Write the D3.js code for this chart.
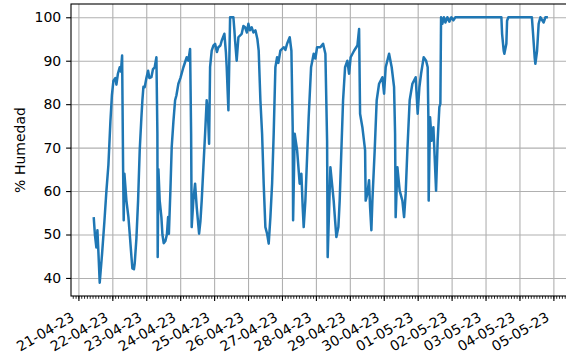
<!DOCTYPE html>
<html>
<head>
<meta charset="utf-8">
<script src="https://cdn.jsdelivr.net/npm/d3@7"></script>
<style>
  body { margin: 0; background: #fff; }
  text { font-family: "DejaVu Sans", sans-serif; }
</style>
</head>
<body>
<svg id="chart" width="566" height="358"></svg>
<script>
// ----- datos -----
// dias desde el 21-04-23 00:00 y % de humedad leido en cada instante
const inicio = new Date(2023, 3, 21);
const dias = [
  0.451, 0.486, 0.530, 0.560, 0.589, 0.628, 0.698, 0.766, 0.825, 0.884,
  0.943, 0.987, 1.032, 1.090, 1.120, 1.164, 1.217, 1.253, 1.288, 1.317,
  1.335, 1.356, 1.415, 1.474, 1.512, 1.562, 1.591, 1.636, 1.659, 1.709,
  1.759, 1.807, 1.857, 1.886, 1.916, 1.954, 2.004, 2.054, 2.093, 2.151,
  2.196, 2.249, 2.299, 2.328, 2.337, 2.358, 2.396, 2.446, 2.476, 2.514,
  2.564, 2.608, 2.644, 2.667, 2.711, 2.750, 2.800, 2.850, 2.888, 2.947,
  3.006, 3.095, 3.192, 3.242, 3.292, 3.322, 3.339, 3.389, 3.439, 3.487,
  3.557, 3.596, 3.634, 3.684, 3.734, 3.781, 3.817, 3.852, 3.881, 3.929,
  3.979, 4.029, 4.082, 4.126, 4.185, 4.223, 4.303, 4.347, 4.371, 4.421,
  4.471, 4.568, 4.598, 4.618, 4.665, 4.716, 4.813, 4.863, 4.913, 4.966,
  5.010, 5.054, 5.108, 5.158, 5.217, 5.275, 5.314, 5.364, 5.414, 5.461,
  5.511, 5.561, 5.609, 5.659, 5.709, 5.756, 5.806, 5.856, 5.894, 5.953,
  6.051, 6.101, 6.151, 6.228, 6.278, 6.316, 6.328, 6.375, 6.446, 6.522,
  6.572, 6.611, 6.640, 6.690, 6.787, 6.858, 6.935, 6.985, 7.035, 7.132,
  7.212, 7.280, 7.330, 7.347, 7.427, 7.524, 7.565, 7.604, 7.663, 7.701,
  7.751, 7.801, 7.860, 7.928, 7.978, 8.025, 8.125, 8.223, 8.273, 8.302,
  8.370, 8.450, 8.467, 8.517, 8.567, 8.597, 8.635, 8.665, 8.733, 8.792,
  8.862, 8.960, 9.010, 9.057, 9.157, 9.234, 9.304, 9.334, 9.351, 9.402,
  9.469, 9.549, 9.599, 9.646, 9.696, 9.764, 9.844, 9.941, 10.000, 10.050,
  10.100, 10.177, 10.248, 10.295, 10.315, 10.324, 10.365, 10.412, 10.463, 10.492,
  10.542, 10.589, 10.639, 10.669, 10.689, 10.728, 10.772, 10.816, 10.875, 10.934,
  10.993, 11.052, 11.111, 12.467, 12.488, 12.535, 12.555, 12.614, 12.635, 12.673,
  13.366, 13.401, 13.448, 13.469, 13.519, 13.566, 13.616, 13.714, 13.763, 13.838
];
const humedad = [
  54, 50, 47, 51, 46, 38.9, 45.6, 53, 60, 66,
  76, 82, 85.4, 86, 84.5, 87, 88.5, 87.5, 91.2, 65.5,
  53.3, 64, 57.8, 54, 50.2, 45, 42.2, 42, 43.3, 49,
  57.8, 69.4, 77, 80.9, 84, 83.9, 86, 87.7, 86, 86.2,
  88, 88.5, 90.8, 73.2, 44.8, 65, 57.8, 54, 50, 48,
  48.5, 50, 54, 50.2, 60, 70.1, 76, 80.9, 82, 84.7,
  86, 88.5, 90.8, 90, 92.7, 73.2, 51.7, 58, 61.7, 56.3,
  50.2, 53, 57.8, 65.5, 73.2, 80.9, 78, 70.9, 88.5, 92.3,
  93.5, 93.9, 92, 93.1, 93.5, 94.6, 96.2, 92, 88.5, 78.6,
  100, 100, 97, 94.6, 90, 95.4, 96.2, 98, 97.7, 96.5,
  98.5, 97, 97.7, 96.5, 97, 95, 92.3, 80.9, 73.2, 61.7,
  51.7, 50.2, 47.9, 54, 61.7, 73.2, 88.5, 90.8, 89.5, 92.3,
  93.1, 92.5, 93.9, 95.4, 92.3, 74.7, 53.3, 73.2, 69.4, 61.7,
  64, 56.3, 51.7, 57.8, 77, 88.5, 91.6, 90.5, 93.1, 93.1,
  93.9, 91.6, 71.6, 44.8, 65.5, 57.8, 53.3, 49.4, 51.7, 57.8,
  69.4, 80.9, 88.5, 90, 87, 90.8, 92.3, 93.5, 97.3, 77.8,
  74.7, 69.4, 57.8, 59.4, 62.5, 56.3, 51, 57.8, 69.4, 80.9,
  84.7, 86.2, 82.4, 88.5, 91.6, 88.5, 83.9, 73.2, 54, 65.5,
  60.1, 57.8, 54, 59.4, 69.4, 80.9, 84.7, 86.2, 77.8, 83.9,
  87, 90.8, 90, 88.5, 77, 57.8, 77, 71.6, 74.7, 69.4,
  60.1, 71.6, 79.3, 80.1, 100, 98.5, 100, 98.8, 100, 99,
  100, 99.3, 100, 100, 96.2, 92.3, 91.6, 93.9, 99.2, 100,
  100, 96.2, 90.8, 89.3, 92.3, 98.5, 100, 98.8, 100, 100
];
const yTicks = [40, 50, 60, 70, 80, 90, 100];
const etiquetaY = "% Humedad";

// ----- tamanos -----
const W = 566, H = 358;
const margin = { top: 4, left: 71, bottom: 296 };
const plotRight = 570.6;   // el marco sigue fuera de la imagen (recortado)
const tickLen = 4.9, tickPad = 4.9, fontSize = 14;
const lineColor = "#1f77b4";

if (dias.length !== humedad.length) console.error("longitudes distintas", dias.length, humedad.length);

const aFecha = d => new Date(inicio.getTime() + d * 864e5);
const datos = dias.map((d, i) => ({ fecha: aFecha(d), h: humedad[i] }));

const svg = d3.select("#chart");

// escalas con el 5% de margen como matplotlib
const [d0, d1] = d3.extent(dias);
const padX = (d1 - d0) * 0.05;
const x = d3.scaleTime()
  .domain([aFecha(d0 - padX), aFecha(d1 + padX)])
  .range([margin.left, plotRight]);

const [h0, h1] = d3.extent(humedad);
const padY = (h1 - h0) * 0.05;
const y = d3.scaleLinear()
  .domain([h0 - padY, h1 + padY])
  .range([margin.bottom, margin.top]);

const plotH = margin.bottom - margin.top;

//rejilla
svg.append("g")
  .attr("transform", `translate(0, ${margin.bottom})`)
  .call(d3.axisBottom(x).ticks(d3.timeDay.every(1)).tickSize(-plotH).tickFormat(""))
  .call(g => g.select(".domain").remove())
  .call(g => g.selectAll("line").attr("stroke", "#b0b0b0").attr("stroke-width", 1.1));

svg.append("g")
  .attr("transform", `translate(${margin.left}, 0)`)
  .call(d3.axisLeft(y).tickValues(yTicks).tickSize(-(plotRight - margin.left)).tickFormat(""))
  .call(g => g.select(".domain").remove())
  .call(g => g.selectAll("line").attr("stroke", "#b0b0b0").attr("stroke-width", 1.1));

//la serie
const linea = d3.line()
  .x(d => x(d.fecha))
  .y(d => y(d.h));

svg.append("path")
  .datum(datos)
  .attr("fill", "none")
  .attr("stroke", lineColor)
  .attr("stroke-width", 2.5)
  .attr("stroke-linejoin", "round")
  .attr("d", linea);

//marco
svg.append("rect")
  .attr("x", margin.left)
  .attr("y", margin.top)
  .attr("width", plotRight - margin.left)
  .attr("height", plotH)
  .attr("fill", "none")
  .attr("stroke", "#000")
  .attr("stroke-width", 1.1);

//eje y
const yAxis = svg.append("g")
  .attr("transform", `translate(${margin.left}, 0)`)
  .call(d3.axisLeft(y).tickValues(yTicks).tickSize(tickLen).tickPadding(tickPad).tickSizeOuter(0));
yAxis.select(".domain").remove();
yAxis.selectAll("line").attr("stroke", "#000").attr("stroke-width", 1.1);
yAxis.selectAll("text").attr("font-size", fontSize).attr("fill", "#000")
  .attr("font-family", "DejaVu Sans");

//eje x: menores cada 2 horas
const xMinor = svg.append("g")
  .attr("transform", `translate(0, ${margin.bottom})`)
  .call(d3.axisBottom(x).ticks(d3.timeHour.every(2)).tickSize(2.8).tickFormat(""));
xMinor.select(".domain").remove();
xMinor.selectAll("line").attr("stroke", "#000").attr("stroke-width", 0.85);

//eje x: mayores cada dia
const fmt = d3.timeFormat("%d-%m-%y");
const xAxis = svg.append("g")
  .attr("transform", `translate(0, ${margin.bottom})`)
  .call(d3.axisBottom(x).ticks(d3.timeDay.every(1)).tickFormat(fmt).tickSize(tickLen).tickSizeOuter(0));
xAxis.select(".domain").remove();
xAxis.selectAll("line").attr("stroke", "#000").attr("stroke-width", 1.1);
xAxis.selectAll("text")
  .attr("font-size", fontSize)
  .attr("font-family", "DejaVu Sans")
  .attr("fill", "#000")
  .attr("y", 0)
  .attr("dy", "0.76em")
  .attr("text-anchor", "end")
  .attr("transform", `translate(-9, ${tickLen + tickPad + 5}) rotate(-30)`);

//titulo eje y
svg.append("text")
  .attr("transform", `translate(24.5, ${(margin.top + margin.bottom) / 2}) rotate(-90)`)
  .attr("text-anchor", "middle")
  .attr("font-size", fontSize)
  .attr("fill", "#000")
  .text(etiquetaY);
</script>
</body>
</html>
